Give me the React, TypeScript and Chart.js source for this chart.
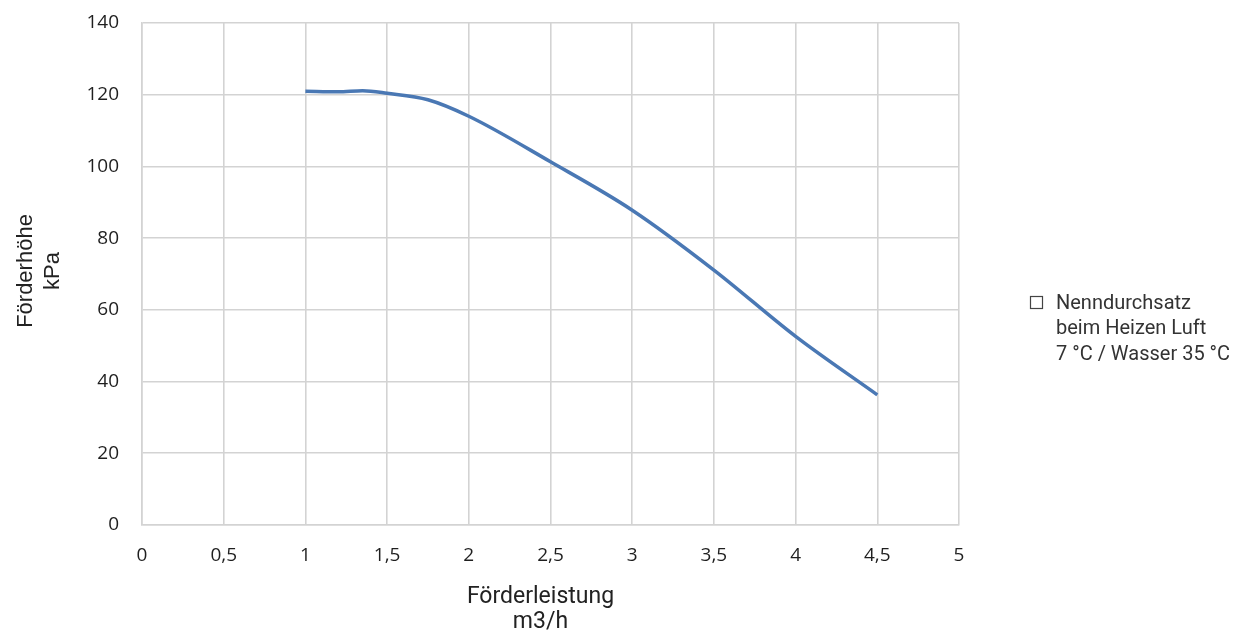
import React, { useEffect, useRef } from "react";
import { Chart, registerables } from "chart.js";

Chart.register(...registerables);

// Data
const flowRates = [1, 1.2, 1.35, 1.5, 1.75, 2, 2.5, 3, 3.5, 4, 4.5]; // m3/h
const pumpHead = [121, 120.8, 121.1, 120.4, 118.6, 114, 101.3, 87.8, 71.1, 52.6, 36.3]; // kPa

const xTickValues = [0, 0.5, 1, 1.5, 2, 2.5, 3, 3.5, 4, 4.5, 5];
const xTickLabels = ["0", "0,5", "1", "1,5", "2", "2,5", "3", "3,5", "4", "4,5", "5"];
const yTickLabels = ["0", "20", "40", "60", "80", "100", "120", "140"];

const xTitleLines = ["Förderleistung", "m3/h"];
const yTitleLines = ["Förderhöhe", "kPa"];
const legendLines = ["Nenndurchsatz", "beim Heizen Luft", "7 °C / Wasser 35 °C"];

const LINE_COLOR = "#4a78b4";
const GRID_COLOR = "#d3d3d3";

const annotationsPlugin = {
  id: "customTexts",
  afterDraw(chart: any) {
    const { ctx, chartArea } = chart;
    const midY = (chartArea.top + chartArea.bottom) / 2;
    ctx.save();
    // Y axis title (rotated)
    ctx.fillStyle = "#222222";
    ctx.font = '22px "Liberation Sans", Arial, sans-serif';
    ctx.textAlign = "center";
    ctx.textBaseline = "alphabetic";
    ctx.save();
    ctx.translate(chartArea.left - 110, midY - 3);
    ctx.rotate(-Math.PI / 2);
    yTitleLines.forEach((t, i) => ctx.fillText(t, 0, i * 27));
    ctx.restore();

    // X axis title
    ctx.font = '23px Roboto, sans-serif';
    const cx = (chartArea.left + chartArea.right) / 2 - 10;
    xTitleLines.forEach((t, i) => ctx.fillText(t, cx, chartArea.bottom + 78 + i * 25));

    // Legend
    const lx = chartArea.right + 71;
    const ly = midY + 35;
    ctx.strokeStyle = "#444444";
    ctx.lineWidth = 1.2;
    ctx.fillStyle = "#ffffff";
    ctx.fillRect(lx, ly - 13, 13, 13);
    ctx.strokeRect(lx + 0.5, ly - 12.5, 12, 12);
    ctx.fillStyle = "#333333";
    ctx.font = '20px Roboto, sans-serif';
    ctx.textAlign = "left";
    legendLines.forEach((t, i) => ctx.fillText(t, lx + 26, ly + i * 25.3));
    ctx.restore();
  },
};

export default function App() {
  const canvasRef = useRef<HTMLCanvasElement | null>(null);

  useEffect(() => {
    if (!canvasRef.current) return;
    const chart = new Chart(canvasRef.current, {
      type: "line",
      data: {
        datasets: [
          {
            label: legendLines.join(" "),
            data: flowRates.map((x, i) => ({ x, y: pumpHead[i] })),
            borderColor: LINE_COLOR,
            backgroundColor: LINE_COLOR,
            borderWidth: 3.5,
            pointRadius: 0,
            cubicInterpolationMode: "monotone",
            fill: false,
          },
        ],
      },
      options: {
        responsive: true,
        maintainAspectRatio: false,
        animation: false,
        layout: { padding: { top: 23, right: 289, left: 0, bottom: 0 } },
        plugins: {
          legend: { display: false },
          tooltip: { enabled: false },
        },
        scales: {
          x: {
            type: "linear",
            min: 0,
            max: 5,
            afterBuildTicks: (scale: any) => {
              scale.ticks = xTickValues.map((v) => ({ value: v }));
            },
            afterFit: (scale: any) => {
              scale.height = 110;
              scale.paddingLeft = 0;
              scale.paddingRight = 0;
            },
            ticks: {
              autoSkip: false,
              maxRotation: 0,
              padding: 19,
              color: "#1f1f1f",
              font: { family: '"Open Sans", sans-serif', size: 19 },
              callback: (value: any) => {
                const idx = xTickValues.indexOf(Number(value));
                return idx >= 0 ? xTickLabels[idx] : "";
              },
            },
            grid: { color: GRID_COLOR, lineWidth: 1.6, drawTicks: false },
            border: { color: GRID_COLOR, width: 1.6 },
          },
          y: {
            min: 0,
            max: 140,
            afterBuildTicks: (scale: any) => {
              scale.ticks = yTickLabels.map((t) => ({ value: Number(t) }));
            },
            afterFit: (scale: any) => {
              scale.width = 142;
              scale.paddingTop = 0;
              scale.paddingBottom = 0;
            },
            ticks: {
              padding: 23,
              color: "#1f1f1f",
              font: { family: '"Open Sans", sans-serif', size: 19 },
              callback: (value: any) => {
                const idx = yTickLabels.indexOf(String(value));
                return idx >= 0 ? yTickLabels[idx] : "";
              },
            },
            grid: { color: GRID_COLOR, lineWidth: 1.6, drawTicks: false },
            border: { color: GRID_COLOR, width: 1.6 },
          },
        },
      },
      plugins: [annotationsPlugin],
    } as any);
    return () => chart.destroy();
  }, []);

  return (
    <div
      style={{
        position: "fixed",
        left: 0,
        top: 0,
        width: 1248,
        height: 635,
        background: "#ffffff",
      }}
    >
      <canvas ref={canvasRef} />
    </div>
  );
}
